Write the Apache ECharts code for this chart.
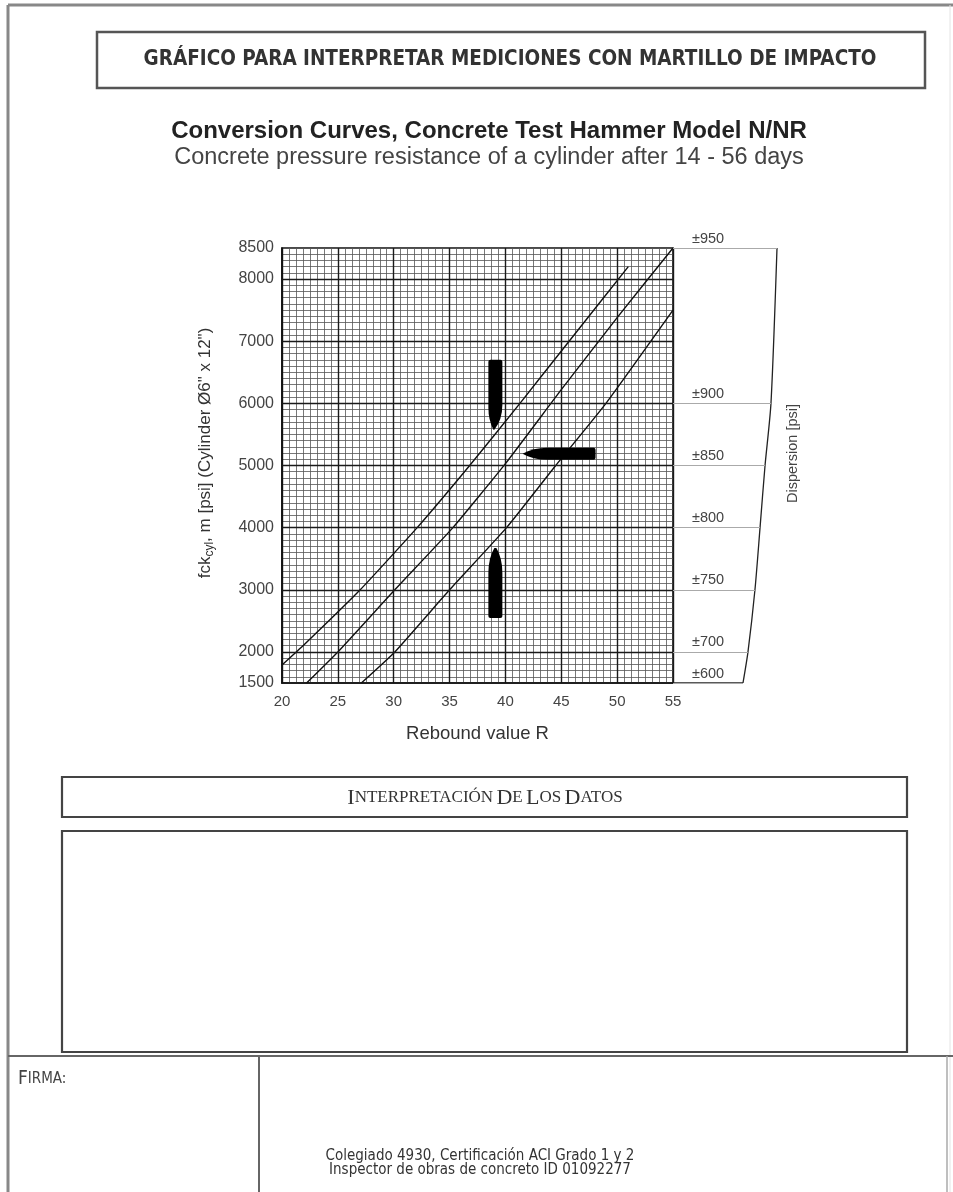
<!DOCTYPE html>
<html>
<head>
<meta charset="utf-8">
<script src="https://cdn.jsdelivr.net/npm/echarts@6/dist/echarts.min.js"></script>
<style>
html, body { margin: 0; padding: 0; background: #fff; }
#chart { width: 953px; height: 1192px; }
</style>
</head>
<body>
<div id="chart"></div>
<script>
// conversion curves: rebound value R -> fck cylinder (psi)
var curveUpper = [[20, 1790], [22, 2120], [27.0, 3000], [32.1, 4000], [36.8, 5000], [41.3, 6000], [45.7, 7000], [51, 8200]];
var curveMid = [[22.2, 1500], [25, 2000], [30.1, 3000], [35.3, 4000], [40, 5030], [45, 6220], [50, 7380], [55, 8500]];
var curveLower = [[27.1, 1500], [30.1, 2000], [35, 3000], [40.1, 4000], [44.5, 5000], [49, 6000], [55, 7500]];

// axis ticks
var yLabelTicks = [1500, 2000, 3000, 4000, 5000, 6000, 7000, 8000, 8500];
var yMajorLines = [2000, 3000, 4000, 5000, 6000, 7000, 8000];

// dispersion band on the right
var dispPsi = [8500, 6000, 5000, 4000, 3000, 2000, 1500];
var dispLabel = ['±950', '±900', '±850', '±800', '±750', '±700', '±600'];
var dispCurveX = [100, 94.2, 88.5, 83.7, 78.8, 72.1, 67.3];

// the three black pointers (R, psi of their centre)
var arrowR = [39.1, 44.8, 39.1];
var arrowPsi = [6140, 5190, 3110];

var pathDown = 'path://M2,0 L12,0 Q14,0 14,2 L14,45 Q14,60 6,70 L5,70 Q0,60 0,48 L0,2 Q0,0 2,0 Z';
var pathUp = 'path://M2,70 L12,70 Q14,70 14,68 L14,25 Q14,10 8,0 L6,0 Q0,10 0,25 L0,68 Q0,70 2,70 Z';
var pathLeft = 'path://M73,2 Q73,0 71,0 L25,0 Q10,0 0,6 Q10,12 25,12 L71,12 Q73,12 73,10 Z';

var chart = echarts.init(document.getElementById('chart'));

var sans = 'Liberation Sans, Arial, sans-serif';
var narrow = 'DejaVu Sans Condensed, Liberation Sans Narrow, Arial Narrow, sans-serif';
var serif = 'Liberation Serif, Times New Roman, serif';

var curveStyle = function (name, data) {
  return {
    name: name,
    type: 'line',
    data: data,
    showSymbol: false,
    smooth: 0.15,
    lineStyle: { color: '#111', width: 1.4 },
    z: 4,
    silent: true
  };
};

chart.setOption({
  animation: false,
  backgroundColor: '#fff',
  title: [
    {
      text: 'GRÁFICO PARA INTERPRETAR MEDICIONES CON MARTILLO DE IMPACTO',
      left: 510, top: 49, textAlign: 'center', padding: 0,
      textStyle: { fontFamily: narrow, fontWeight: 'bold', fontSize: 20.5, color: '#333' }
    },
    {
      text: 'Conversion Curves, Concrete Test Hammer Model N/NR',
      left: 489, top: 119, textAlign: 'center', padding: 0,
      textStyle: { fontFamily: sans, fontWeight: 'bold', fontSize: 24, color: '#222' }
    },
    {
      text: 'Concrete pressure resistance of a cylinder after 14 - 56 days',
      left: 489, top: 146, textAlign: 'center', padding: 0,
      textStyle: { fontFamily: sans, fontWeight: 'normal', fontSize: 23.5, color: '#444' }
    }
  ],
  grid: [
    { left: 282, top: 248, width: 391, height: 435, show: true, borderColor: '#111', borderWidth: 1.6, backgroundColor: 'transparent' },
    { left: 673, top: 248, width: 104, height: 435 }
  ],
  xAxis: [
    {
      gridIndex: 0, type: 'value', min: 20, max: 55, interval: 5,
      name: 'Rebound value R', nameLocation: 'middle', nameGap: 41,
      nameTextStyle: { fontFamily: sans, fontSize: 18.5, color: '#333' },
      axisLine: { lineStyle: { color: '#111', width: 1.6 } },
      axisTick: { show: false },
      axisLabel: { fontFamily: sans, fontSize: 15, color: '#444', margin: 11 },
      splitLine: { show: true, lineStyle: { color: '#1a1a1a', width: 1.4 } },
      minorTick: { show: false, splitNumber: 8 },
      minorSplitLine: { show: true, lineStyle: { color: '#555', width: 0.8 } }
    },
    { gridIndex: 1, type: 'value', min: 0, max: 100, show: false }
  ],
  yAxis: [
    {
      gridIndex: 0, type: 'value', min: 1500, max: 8500, interval: 500,
      axisLine: { lineStyle: { color: '#111', width: 1.6 } },
      axisTick: { show: false },
      axisLabel: {
        fontFamily: sans, fontSize: 16, color: '#444', margin: 8,
        formatter: function (v) { return yLabelTicks.indexOf(v) >= 0 ? String(v) : ''; }
      },
      splitLine: { show: true, lineStyle: { color: '#555', width: 0.8 } },
      minorTick: { show: false, splitNumber: 5 },
      minorSplitLine: { show: true, lineStyle: { color: '#555', width: 0.8 } }
    },
    {
      gridIndex: 1, type: 'value', min: 1500, max: 8500, position: 'right',
      name: 'Dispersion [psi]', nameLocation: 'middle', nameRotate: 90, nameGap: 8,
      nameTextStyle: { fontFamily: sans, fontSize: 14.5, color: '#444', padding: [0, 0, 0, 24] },
      axisLine: { show: false }, axisTick: { show: false },
      axisLabel: { show: false }, splitLine: { show: false }
    }
  ],
  series: [
    {
      // heavy grid lines every 1000 psi
      type: 'line', xAxisIndex: 0, yAxisIndex: 0, data: [], z: 2, silent: true,
      markLine: {
        silent: true, symbol: ['none', 'none'], label: { show: false },
        lineStyle: { color: '#1a1a1a', width: 1.4, type: 'solid' },
        data: yMajorLines.map(function (v) { return { yAxis: v }; })
      }
    },
    curveStyle('upper', curveUpper),
    curveStyle('mid', curveMid),
    curveStyle('lower', curveLower),
    {
      name: 'pointers', type: 'scatter', xAxisIndex: 0, yAxisIndex: 0, z: 5, silent: true,
      symbolKeepAspect: false,
      itemStyle: { color: '#000', opacity: 1 },
      data: [
        { value: [arrowR[0], arrowPsi[0]], symbol: pathDown, symbolSize: [14, 70] },
        { value: [arrowR[1], arrowPsi[1]], symbol: pathLeft, symbolSize: [73, 12] },
        { value: [arrowR[2], arrowPsi[2]], symbol: pathUp, symbolSize: [14, 70] }
      ]
    },
    {
      name: 'dispersion', type: 'line', xAxisIndex: 1, yAxisIndex: 1, clip: false, silent: true,
      data: dispCurveX.map(function (x, i) { return [x, dispPsi[i]]; }),
      showSymbol: false, smooth: 0.25,
      lineStyle: { color: '#222', width: 1.3 },
      markLine: {
        silent: true, symbol: ['none', 'none'],
        lineStyle: { color: '#aaa', width: 1, type: 'solid' },
        label: {
          show: true, position: 'insideStartTop', distance: [19, 2],
          formatter: '{b}', fontFamily: sans, fontSize: 14.5, color: '#444'
        },
        data: dispPsi.map(function (p, i) {
          return [{ coord: [0, p], name: dispLabel[i] }, { coord: [dispCurveX[i], p] }];
        })
      }
    },
    {
      name: 'dispersionBase', type: 'line', xAxisIndex: 1, yAxisIndex: 1, silent: true, clip: false,
      data: [[0, dispPsi[dispPsi.length - 1]], [dispCurveX[dispCurveX.length - 1], dispPsi[dispPsi.length - 1]]],
      showSymbol: false, lineStyle: { color: '#222', width: 1.3 }
    }
  ],
  graphic: [
    // page frame
    { type: 'line', shape: { x1: 8, y1: 5, x2: 953, y2: 5 }, style: { stroke: '#888', lineWidth: 3 } },
    { type: 'line', shape: { x1: 8, y1: 5, x2: 8, y2: 1192 }, style: { stroke: '#888', lineWidth: 3 } },
    { type: 'line', shape: { x1: 950, y1: 5, x2: 950, y2: 1192 }, style: { stroke: '#e4e4e4', lineWidth: 1 } },
    // header box
    { type: 'rect', shape: { x: 97, y: 32, width: 828, height: 56 }, style: { fill: 'none', stroke: '#555', lineWidth: 2.5 } },
    // interpretation boxes
    { type: 'rect', shape: { x: 62, y: 777, width: 845, height: 40 }, style: { fill: 'none', stroke: '#444', lineWidth: 2.2 } },
    {
      type: 'text', x: 485, y: 798,
      style: {
        text: '{a|I}{b|NTERPRETACIÓN} {a|D}{b|E} {a|L}{b|OS} {a|D}{b|ATOS}',
        align: 'center', verticalAlign: 'middle', fill: '#333',
        rich: {
          a: { fontFamily: serif, fontSize: 22, fill: '#333' },
          b: { fontFamily: serif, fontSize: 17, fill: '#333' }
        }
      }
    },
    { type: 'rect', shape: { x: 62, y: 831, width: 845, height: 221 }, style: { fill: 'none', stroke: '#444', lineWidth: 2.2 } },
    // footer
    { type: 'line', shape: { x1: 8, y1: 1056, x2: 953, y2: 1056 }, style: { stroke: '#666', lineWidth: 2 } },
    { type: 'line', shape: { x1: 259, y1: 1056, x2: 259, y2: 1192 }, style: { stroke: '#666', lineWidth: 2 } },
    { type: 'line', shape: { x1: 947, y1: 1056, x2: 947, y2: 1192 }, style: { stroke: '#aaa', lineWidth: 1.5 } },
    {
      type: 'text', x: 18, y: 1079,
      style: {
        text: '{a|F}{b|IRMA:}', align: 'left', verticalAlign: 'middle',
        rich: {
          a: { fontFamily: narrow, fontSize: 19, fill: '#444' },
          b: { fontFamily: narrow, fontSize: 15, fill: '#444' }
        }
      }
    },
    {
      type: 'text', x: 480, y: 1163,
      style: {
        text: 'Colegiado 4930, Certificación ACI Grado 1 y 2\nInspector de obras de concreto ID 01092277',
        align: 'center', verticalAlign: 'middle', fontFamily: narrow, fontSize: 15, lineHeight: 14, fill: '#333'
      }
    },
    // y axis title with subscript
    {
      type: 'text', x: 205, y: 453, rotation: Math.PI / 2,
      style: {
        text: 'fck{s|cyl}, m [psi] (Cylinder Ø6" x 12")',
        align: 'center', verticalAlign: 'middle', fontFamily: sans, fontSize: 17, fill: '#333',
        rich: { s: { fontFamily: sans, fontSize: 12, fill: '#333', padding: [9, 0, 0, 0] } }
      }
    }
  ]
});
</script>
</body>
</html>
